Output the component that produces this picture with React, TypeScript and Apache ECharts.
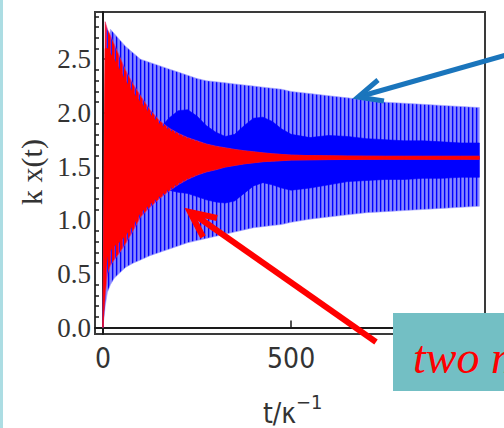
import React, { useEffect, useRef } from 'react';
import * as echarts from 'echarts';

// time samples (t / kappa^-1)
const T = [0, 6, 12, 20, 30, 45, 60, 80, 100, 125,
  150, 175, 200, 225, 250, 275, 300, 325, 350, 375, 400, 425, 450, 475, 500,
  550, 600, 650, 700, 750, 800, 850, 900, 950, 1000];

// blue trace: outer envelope (light spikes) and dense core
const blueOuterHi = [0, 1.6, 2.6, 2.78, 2.74, 2.68, 2.62, 2.56, 2.5, 2.47,
  2.44, 2.41, 2.38, 2.35, 2.32, 2.30, 2.29, 2.28, 2.27, 2.26, 2.25, 2.24, 2.23, 2.22, 2.20,
  2.18, 2.16, 2.14, 2.12, 2.10, 2.09, 2.08, 2.07, 2.06, 2.05];
const blueOuterLo = [0, 0.2, 0.33, 0.40, 0.46, 0.51, 0.56, 0.60, 0.63, 0.67,
  0.70, 0.73, 0.76, 0.79, 0.81, 0.83, 0.85, 0.87, 0.89, 0.91, 0.93, 0.94, 0.95, 0.96, 0.98,
  1.01, 1.03, 1.05, 1.07, 1.08, 1.09, 1.10, 1.11, 1.12, 1.13];
const blueCoreHi = [0, 1.5, 1.6, 1.6, 1.6, 1.6, 1.6, 1.6, 1.6, 1.6,
  1.85, 1.95, 2.02, 2.03, 1.97, 1.88, 1.82, 1.78, 1.80, 1.88, 1.95, 1.96, 1.92, 1.85, 1.80,
  1.77, 1.79, 1.78, 1.76, 1.75, 1.74, 1.74, 1.73, 1.72, 1.72];
const blueCoreLo = [0, 1.4, 1.5, 1.5, 1.5, 1.5, 1.5, 1.5, 1.5, 1.5,
  1.30, 1.28, 1.26, 1.25, 1.22, 1.19, 1.17, 1.16, 1.18, 1.25, 1.32, 1.35, 1.33, 1.30, 1.28,
  1.30, 1.33, 1.36, 1.37, 1.38, 1.38, 1.39, 1.39, 1.40, 1.40];

// red trace: outer envelope and solid core
const redOuterHi = [0, 2.85, 2.78, 2.72, 2.64, 2.52, 2.40, 2.27, 2.16, 2.03,
  1.93, 1.86, 1.81, 1.77, 1.74, 1.71, 1.69, 1.675, 1.66, 1.648, 1.638, 1.628, 1.62, 1.613, 1.607,
  1.602, 1.60, 1.598, 1.597, 1.596, 1.596, 1.596, 1.596, 1.596, 1.596];
const redOuterLo = [0, 0.3, 0.5, 0.58, 0.63, 0.70, 0.78, 0.90, 1.03, 1.12,
  1.20, 1.27, 1.33, 1.38, 1.42, 1.45, 1.47, 1.495, 1.51, 1.525, 1.535, 1.545, 1.55, 1.555, 1.56,
  1.563, 1.565, 1.566, 1.567, 1.568, 1.568, 1.568, 1.568, 1.568, 1.568];
const redCoreHi = [0, 2.6, 2.6, 2.55, 2.5, 2.4, 2.3, 2.19, 2.1, 1.99,
  1.90, 1.84, 1.795, 1.76, 1.73, 1.705, 1.685, 1.67, 1.656, 1.645, 1.635, 1.626, 1.618, 1.612, 1.606,
  1.602, 1.60, 1.598, 1.597, 1.596, 1.596, 1.596, 1.596, 1.596, 1.596];
const redCoreLo = [0, 0.5, 0.65, 0.72, 0.76, 0.8, 0.86, 0.95, 1.07, 1.15,
  1.22, 1.29, 1.345, 1.39, 1.425, 1.455, 1.475, 1.497, 1.512, 1.526, 1.536, 1.546, 1.551, 1.556, 1.561,
  1.563, 1.565, 1.566, 1.567, 1.568, 1.568, 1.568, 1.568, 1.568, 1.568];

// axis ticks
const X_TICKS = [0, 500, 1000];
const X_LABELS = [0, 500];
const Y_MAJOR = [0, 0.5, 1, 1.5, 2, 2.5];
const Y_MINOR = [0.1, 0.2, 0.3, 0.4, 0.6, 0.7, 0.8, 0.9, 1.1, 1.2, 1.3, 1.4, 1.6, 1.7, 1.8, 1.9,
  2.1, 2.2, 2.3, 2.4, 2.6, 2.7, 2.8, 2.9];

const SERIF = "'Liberation Serif', 'Times New Roman', serif";
const NARROW = "'Liberation Sans Narrow', 'DejaVu Sans Condensed', 'Liberation Sans', sans-serif";

// vertical stripe fill imitating the dense oscillation
function stripes(colors: string[]): any {
  const c = document.createElement('canvas');
  c.width = colors.length;
  c.height = 2;
  const ctx = c.getContext('2d');
  if (!ctx) return colors[0];
  colors.forEach((col, i) => {
    ctx.fillStyle = col;
    ctx.fillRect(i, 0, 1, 2);
  });
  return { image: c.toDataURL(), repeat: 'repeat', imageWidth: colors.length, imageHeight: 2 };
}

// a filled envelope band between lo and hi, drawn through the axis scales
function band(lo: number[], hi: number[], fill: any, edge: string, z: number) {
  return {
    type: 'custom',
    silent: true,
    z,
    data: T.map((t, i) => [t, lo[i], hi[i]]),
    encode: { x: 0, y: [1, 2] },
    renderItem: (params: any, api: any) => {
      if (params.dataIndex !== 0) return null;
      const pts: number[][] = [];
      for (let i = 0; i < T.length; i++) pts.push(api.coord([T[i], hi[i]]));
      for (let i = T.length - 1; i >= 0; i--) pts.push(api.coord([T[i], lo[i]]));
      return {
        type: 'polygon',
        shape: { points: pts, smooth: 0 },
        style: { fill, stroke: edge, lineWidth: 0.6 },
      };
    },
  };
}

export default function App() {
  const ref = useRef<HTMLDivElement>(null);
  useEffect(() => {
    const chart = echarts.init(ref.current!, null, { renderer: 'svg' });
    const axisColor = '#1a1a1a';
    const blueFringe = stripes(['#0000ff', '#5a5aff', '#8888ff', '#7c7cff']);
    const redFringe = stripes(['#ff0000', '#ff0000', '#e0106a', '#2020ff']);
    chart.setOption({
      animation: false,
      backgroundColor: '#ffffff',
      grid: {
        left: 95, top: 12, right: 19, bottom: 94,
        show: true, borderColor: '#3a3a3a', borderWidth: 2, backgroundColor: 'transparent',
      },
      xAxis: {
        type: 'value', min: -21, max: 1015,
        axisLine: { lineStyle: { color: axisColor, width: 2 } },
        axisTick: { inside: true, length: 7, customValues: X_TICKS, lineStyle: { color: axisColor, width: 1.5 } },
        axisLabel: { customValues: X_LABELS, fontFamily: NARROW, fontSize: 28, color: '#333', margin: 10 },
        splitLine: { show: false },
      },
      yAxis: [
        {
          type: 'value', min: -0.06, max: 2.94, position: 'left',
          axisLine: { show: true, lineStyle: { color: axisColor, width: 2 } },
          axisTick: { show: true, inside: true, length: 7, customValues: Y_MAJOR, lineStyle: { color: axisColor, width: 1.5 } },
          axisLabel: {
            customValues: Y_MAJOR, formatter: (v: number) => v.toFixed(1),
            fontFamily: SERIF, fontSize: 27, color: '#333', margin: 4,
          },
          splitLine: { show: false },
        },
        {
          type: 'value', min: -0.06, max: 2.94, position: 'left', offset: 0,
          axisLine: { show: false },
          axisTick: { show: true, inside: true, length: 4, customValues: Y_MINOR, lineStyle: { color: axisColor, width: 1.5 } },
          axisLabel: { show: false },
          splitLine: { show: false },
        },
      ],
      series: [
        band(blueOuterLo, blueOuterHi, blueFringe, '#a0a0ff', 2),
        band(blueCoreLo, blueCoreHi, '#0000ff', '#0000ff', 3),
        band(redOuterLo, redOuterHi, redFringe, '#e8306a', 4),
        band(redCoreLo, redCoreHi, '#ff0000', '#ff0000', 5),
      ],
      graphic: [
        { type: 'rect', z: 100, shape: { x: 0, y: 0, width: 3, height: 428 }, style: { fill: '#acdde3' } },
        // blue arrow
        { type: 'polyline', z: 100, shape: { points: [[506, 55], [360, 96.5]] }, style: { stroke: '#1a75bc', lineWidth: 5, fill: null } },
        { type: 'polyline', z: 100, shape: { points: [[378, 80], [358, 97], [384, 101]] }, style: { stroke: '#1a75bc', lineWidth: 5, fill: null, lineJoin: 'miter' } },
        // red arrow
        { type: 'polyline', z: 100, shape: { points: [[376, 342], [192, 213]] }, style: { stroke: '#ff0000', lineWidth: 6, fill: null } },
        { type: 'polyline', z: 100, shape: { points: [[217, 218], [190, 212], [203, 237]] }, style: { stroke: '#ff0000', lineWidth: 6, fill: null, lineJoin: 'miter' } },
        // label box
        { type: 'rect', z: 101, shape: { x: 393, y: 313, width: 120, height: 78 }, style: { fill: '#73bfc4' } },
        {
          type: 'text', z: 102, x: 413, y: 357,
          style: { text: 'two modes', fill: '#ff0000', fontFamily: SERIF, fontStyle: 'italic', fontSize: 46, verticalAlign: 'middle', align: 'left' },
        },
        // axis titles
        {
          type: 'text', z: 100, x: 31, y: 172, rotation: Math.PI / 2,
          style: { text: 'k x(t)', fill: '#333', fontFamily: SERIF, fontSize: 30, align: 'center', verticalAlign: 'middle' },
        },
        {
          type: 'text', z: 100, x: 263, y: 413,
          style: { text: 't/κ', fill: '#333', fontFamily: NARROW, fontSize: 28, align: 'left', verticalAlign: 'middle' },
        },
        {
          type: 'text', z: 100, x: 296, y: 402,
          style: { text: '−1', fill: '#333', fontFamily: NARROW, fontSize: 20, align: 'left', verticalAlign: 'middle' },
        },
      ],
    });
    return () => chart.dispose();
  }, []);
  return <div ref={ref} style={{ position: 'fixed', left: 0, top: 0, width: 504, height: 428, background: '#fff' }} />;
}
